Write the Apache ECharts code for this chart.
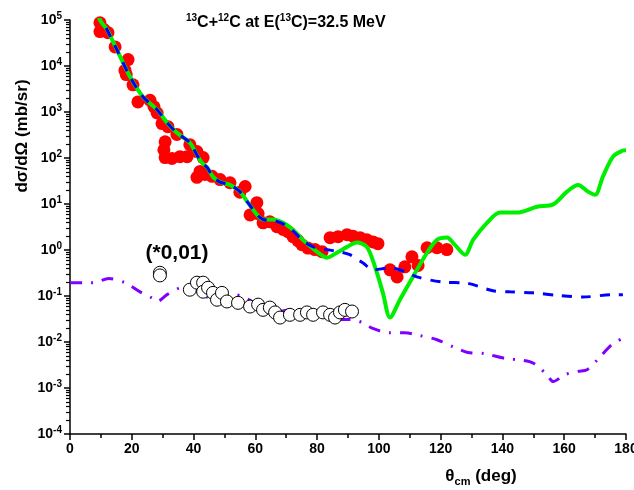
<!DOCTYPE html>
<html>
<head>
<meta charset="utf-8">
<script src="https://cdn.jsdelivr.net/npm/echarts@6/dist/echarts.min.js"></script>
<style>
html,body{margin:0;padding:0;background:#fff;}
#c{width:634px;height:490px;}
</style>
</head>
<body>
<div id="c"></div>
<script>
// ---- data ----
const xTicks = [0, 20, 40, 60, 80, 100, 120, 140, 160, 180];
const yDecades = [-4, -3, -2, -1, 0, 1, 2, 3, 4, 5];

// experimental 13C+12C elastic (filled red circles)
const expDeg = [9.7, 9.7, 11.0, 12.3, 14.6, 18.8, 17.8, 18.2, 20.4, 22.0, 25.9, 27.2, 28.2, 29.8, 31.7, 34.6,
  30.8, 30.4, 30.8, 33.0, 35.6, 37.9, 38.8, 41.1, 43.1, 42.1, 41.1, 43.7, 46.0, 48.6, 51.8, 55.0, 56.7,
  60.5, 58.3, 60.9, 62.5, 64.7, 67.0, 69.0, 70.6, 72.2, 73.8, 75.1, 77.0, 79.3, 81.6,
  84.2, 86.8, 89.7, 91.6, 93.9, 96.1, 98.1, 99.7,
  103.6, 105.9, 108.4, 110.7, 112.7, 115.6, 118.8, 122.0];
const expVal = [87000, 56000, 62000, 53000, 26000, 13800, 8000, 6500, 3900, 1660, 1800, 1300, 950, 560, 480, 325,
  225, 150, 102, 98, 107, 107, 195, 138, 102, 51, 38, 44, 40, 34, 29, 18, 24,
  10.7, 5.8, 6.2, 3.9, 4.1, 3.2, 2.8, 2.5, 1.95, 1.6, 1.3, 1.1, 1.02, 0.92,
  1.85, 1.95, 2.15, 2.0, 1.85, 1.67, 1.5, 1.37,
  0.37, 0.26, 0.43, 0.71, 0.46, 1.12, 1.12, 1.02];

// second data set, scaled by 0.01 (open circles)
const exp2Deg = [29.1, 29.1, 38.8, 41.1, 43.1, 43.1, 44.7, 46.3, 47.6, 49.2, 50.8, 54.4, 58.3, 60.9, 62.5,
  64.7, 66.4, 68.0, 71.2, 74.5, 76.7, 78.7, 81.9, 84.2, 85.8, 87.4, 89.0, 91.3];
const exp2Val = [0.32, 0.28, 0.137, 0.195, 0.195, 0.124, 0.151, 0.117, 0.083, 0.117, 0.076, 0.071, 0.059, 0.065, 0.050,
  0.056, 0.044, 0.034, 0.039, 0.039, 0.044, 0.039, 0.044, 0.039, 0.034, 0.044, 0.050, 0.046];

// green solid curve
const greenDeg = [9.0, 9.7, 12.0, 15.2, 19.4, 23.6, 28.2, 31.4, 34.6, 38.8, 41.4, 42.7, 44.4, 46.3, 48.6, 51.8, 55.0,
  57.6, 60.5, 62.5, 65.7, 69.0, 72.2, 75.4, 80.0, 83.2, 86.4, 89.7, 92.9, 96.1, 98.7, 101.3, 103.6, 106.8,
  111.0, 115.6, 118.8, 122.0, 124.6, 127.9, 130.5, 135.0, 139.2, 144.7, 151.2, 156.4, 160.9, 164.5, 167.7,
  170.0, 172.5, 175.8, 179.0, 180];
const greenVal = [158000, 100000, 61700, 22400, 5900, 2140, 1120, 589, 355, 214, 107, 79, 62, 39, 30, 26, 18.6,
  10.7, 5.9, 4.6, 4.6, 3.9, 2.75, 1.66, 0.91, 0.68, 0.87, 1.17, 1.45, 1.17, 0.44, 0.117, 0.034, 0.083,
  0.26, 0.87, 1.66, 1.86, 1.29, 0.79, 1.66, 3.9, 6.5, 6.5, 8.7, 9.8, 18.6, 26, 18.6,
  15.8, 39, 107, 145, 148];

// blue dashed curve
const blueDeg = [11.7, 15.2, 19.4, 23.6, 28.2, 31.4, 34.6, 38.8, 41.4, 42.7, 44.4, 46.3, 48.6, 51.8, 55.0, 57.6,
  60.5, 62.5, 65.7, 69.0, 72.2, 75.4, 79.0, 83.2, 87.4, 90.6, 94.9, 98.1, 103.6, 108.4, 112.3, 120.7,
  128.5, 136.9, 142.4, 149.9, 158.6, 166.1, 175.8, 179.0];
const blueVal = [67000, 22400, 5900, 2140, 1120, 589, 355, 214, 107, 79, 62, 39, 30, 26, 18.6, 10.7,
  5.9, 4.6, 4.4, 3.7, 2.6, 1.6, 1.15, 1.02, 0.91, 0.79, 0.52, 0.37, 0.41, 0.34, 0.26, 0.20,
  0.19, 0.13, 0.123, 0.117, 0.102, 0.095, 0.107, 0.107];

// purple dash-dot curve
const purpleDeg = [0, 4.2, 7.4, 12.6, 17.8, 22.7, 26.5, 28.2, 31.4, 35.6, 38.2, 42.1, 44.4, 48.6, 53.4, 56.0, 58.9,
  62.5, 65.7, 71.2, 76.1, 81.9, 86.4, 90.6, 94.9, 97.8, 103.6, 108.4, 113.3, 118.8, 124.0, 128.8, 134.0,
  140.8, 146.6, 149.9, 154.4, 156.4, 160.2, 164.5, 167.4, 170.9, 175.5, 179.7];
const purpleVal = [0.195, 0.195, 0.195, 0.24, 0.195, 0.123, 0.091, 0.076, 0.107, 0.151, 0.158, 0.117, 0.095, 0.091, 0.107, 0.095, 0.076,
  0.050, 0.044, 0.050, 0.046, 0.035, 0.031, 0.031, 0.026, 0.020, 0.0158, 0.0158, 0.0138, 0.0112, 0.0079, 0.0059, 0.0056,
  0.0044, 0.0040, 0.0035, 0.00195, 0.00138, 0.00195, 0.0023, 0.0025, 0.0042, 0.0089, 0.0126];

// ---- build ----
const zip = (a, b) => a.map((v, i) => [v, b[i]]);
const FF = '"Liberation Sans", Arial, sans-serif';
const chart = echarts.init(document.getElementById('c'), null, {renderer: 'canvas'});
const supRich = {
  b: {fontSize: 14, fontWeight: 'bold', fontFamily: FF, color: '#000', lineHeight: 18},
  s: {fontSize: 10, fontWeight: 'bold', fontFamily: FF, color: '#000', verticalAlign: 'top', lineHeight: 10}
};
chart.setOption({
  animation: false,
  backgroundColor: '#fff',
  grid: {left: 70, right: 8, top: 20, bottom: 56, containLabel: false, outerBoundsMode: 'none'},
  title: {
    text: '{s|13}{b|C+}{s|12}{b|C at E(}{s|13}{b|C)=32.5 MeV}',
    left: 181, top: 8,
    textStyle: {
      rich: {
        b: {fontSize: 16, fontWeight: 'bold', fontFamily: FF, color: '#000', lineHeight: 20},
        s: {fontSize: 10, fontWeight: 'bold', fontFamily: FF, color: '#000', verticalAlign: 'top', lineHeight: 11}
      }
    }
  },
  xAxis: {
    type: 'value', min: xTicks[0], max: xTicks[xTicks.length - 1], interval: xTicks[1] - xTicks[0],
    axisLine: {show: true, onZero: false, lineStyle: {color: '#000', width: 1.5}},
    axisTick: {show: true, length: 6, lineStyle: {color: '#000', width: 1.5}},
    minorTick: {show: true, splitNumber: 2, length: 4, lineStyle: {color: '#000', width: 1.5}},
    axisLabel: {fontSize: 14, fontWeight: 'bold', fontFamily: FF, color: '#000', margin: 8},
    splitLine: {show: false}, minorSplitLine: {show: false}
  },
  yAxis: {
    type: 'log', logBase: 10, position: 'left',
    min: Math.pow(10, yDecades[0]), max: Math.pow(10, yDecades[yDecades.length - 1]), splitNumber: 9,
    axisLine: {show: true, onZero: false, lineStyle: {color: '#000', width: 1.5}},
    axisTick: {show: true, length: 6, lineStyle: {color: '#000', width: 1.5}},
    minorTick: {show: true, splitNumber: 9, length: 4, lineStyle: {color: '#000', width: 1.2}},
    axisLabel: {
      margin: 8,
      formatter: v => '{b|10}{s|' + Math.round(Math.log10(v)) + '}',
      rich: supRich
    },
    splitLine: {show: false}, minorSplitLine: {show: false}
  },
  series: [
    {
      type: 'scatter', data: zip(expDeg, expVal), symbol: 'circle', symbolSize: 13,
      itemStyle: {color: '#ff0000', opacity: 1}, z: 2
    },
    {
      type: 'line', data: zip(greenDeg, greenVal), showSymbol: false, smooth: 0.3,
      lineStyle: {color: '#00ee00', width: 4}, z: 3
    },
    {
      type: 'line', data: zip(blueDeg, blueVal), showSymbol: false, smooth: 0.3,
      lineStyle: {color: '#0000ff', width: 3, type: [10, 9]}, z: 4
    },
    {
      type: 'line', data: zip(purpleDeg, purpleVal), showSymbol: false, smooth: 0.3,
      lineStyle: {color: '#8000ff', width: 3, type: [12, 9, 2, 9]}, z: 4
    },
    {
      type: 'scatter', data: zip(exp2Deg, exp2Val), symbol: 'circle', symbolSize: 13,
      itemStyle: {color: '#ffffff', borderColor: '#000', borderWidth: 1, opacity: 1}, z: 5
    }
  ],
  graphic: [
    {
      type: 'text', x: 22, y: 136, rotation: Math.PI / 2,
      style: {text: 'dσ/dΩ (mb/sr)', font: 'bold 17px ' + FF, fill: '#000', align: 'center', verticalAlign: 'middle'}
    },
    {
      type: 'text', x: 481, y: 476,
      style: {
        text: '{b|θ}{sub|cm}{b| (deg)}', align: 'center', verticalAlign: 'middle',
        rich: {
          b: {font: 'bold 17px ' + FF, fill: '#000', lineHeight: 22},
          sub: {font: 'bold 11px ' + FF, fill: '#000', verticalAlign: 'bottom', lineHeight: 12}
        }
      }
    },
    {
      type: 'text', x: 177, y: 253,
      style: {text: '(*0,01)', font: 'bold 21px ' + FF, fill: '#000', align: 'center', verticalAlign: 'middle'}
    }
  ]
});
</script>
</body>
</html>
